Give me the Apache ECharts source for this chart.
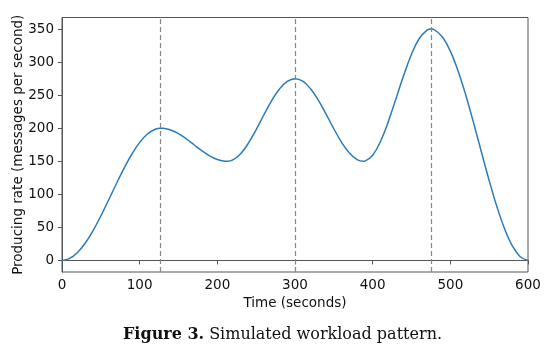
<!DOCTYPE html>
<html>
<head>
<meta charset="utf-8">
<script src="https://cdn.jsdelivr.net/npm/echarts@6/dist/echarts.min.js"></script>
<style>
html,body{margin:0;padding:0;background:#fff;}
#c{width:550px;height:354px;}
</style>
</head>
<body>
<div id="c"></div>
<script>
const times = [0,10,20,30,40,50,60,70,80,90,100,110,120,127,130,140,150,160,170,180,190,200,210,213,220,230,240,250,260,270,280,290,300,310,320,330,340,350,360,370,380,388,390,400,410,420,430,440,450,460,470,475,480,490,500,510,520,530,540,550,560,570,580,590,600];
const rates = [0,3.0,12.0,26.3,45.1,67.2,91.4,116.0,139.7,161.0,178.6,191.2,198.5,200,199.8,197.2,191.7,184.0,175.0,166.1,158.3,152.8,150.2,150,152.0,161.4,177.4,198.0,220.4,241.8,259.4,270.9,275,271.1,259.7,242.5,221.4,199.2,178.7,162.5,152.5,150,150.3,159.2,179.9,209.6,244.6,280.2,312.0,335.7,348.4,350,348.6,337.7,316.6,286.5,249.5,207.8,164.0,120.9,81.2,47.4,21.7,5.5,0];
const peakTimes = [127, 300, 475];
const xTicks = [0,100,200,300,400,500,600];
const yTicks = [0,50,100,150,200,250,300,350];

const chart = echarts.init(document.getElementById('c'), null, {renderer:'canvas'});
const axisColor = '#555';
const font = 'DejaVu Sans';
const fs = 13.5;
chart.setOption({
  animation:false,
  backgroundColor:'#fff',
  title:{
    text:'{b|Figure 3.} {n|Simulated workload pattern.}',
    left:118, top:321,
    textStyle:{fontWeight:'normal',rich:{
      b:{fontFamily:'DejaVu Serif',fontWeight:'bold',fontSize:16,color:'#111'},
      n:{fontFamily:'DejaVu Serif',fontWeight:'normal',fontSize:16,color:'#111'}
    }}
  },
  grid:{left:62,right:22,top:17.5,bottom:82,containLabel:false,outerBoundsMode:'none',show:true,borderColor:axisColor,borderWidth:1,backgroundColor:'transparent'},
  xAxis:{
    type:'value',min:0,max:600,interval:100,
    name:'Time (seconds)',nameLocation:'middle',nameGap:24,nameMoveOverlap:false,
    nameTextStyle:{fontFamily:font,fontSize:fs,color:'#111'},
    axisLine:{show:true,lineStyle:{color:axisColor,width:1}},
    axisTick:{show:true,length:4,lineStyle:{color:axisColor}},
    axisLabel:{margin:6,fontFamily:font,fontSize:fs,color:'#111',customValues:xTicks},
    splitLine:{show:false}
  },
  yAxis:{
    type:'value',min:-17.5,max:367.5,
    name:'Producing rate (messages per second)',nameLocation:'middle',nameGap:37,nameMoveOverlap:false,
    nameTextStyle:{fontFamily:font,fontSize:fs,color:'#111'},
    axisLine:{show:true,lineStyle:{color:axisColor,width:1}},
    axisTick:{show:true,length:4,lineStyle:{color:axisColor},customValues:yTicks},
    axisLabel:{margin:8,fontFamily:font,fontSize:fs,color:'#111',customValues:yTicks},
    splitLine:{show:false}
  },
  series:[{
    type:'line',
    data:times.map((t,i)=>[t,rates[i]]),
    showSymbol:false,
    smooth:0.4,
    lineStyle:{color:'#2b7bba',width:1.5},
    markLine:{
      silent:true,symbol:['none','none'],label:{show:false},
      lineStyle:{color:'#888',type:[5,3],width:1.2},
      data:peakTimes.map(t=>({xAxis:t}))
    }
  }]
});
</script>
</body>
</html>
